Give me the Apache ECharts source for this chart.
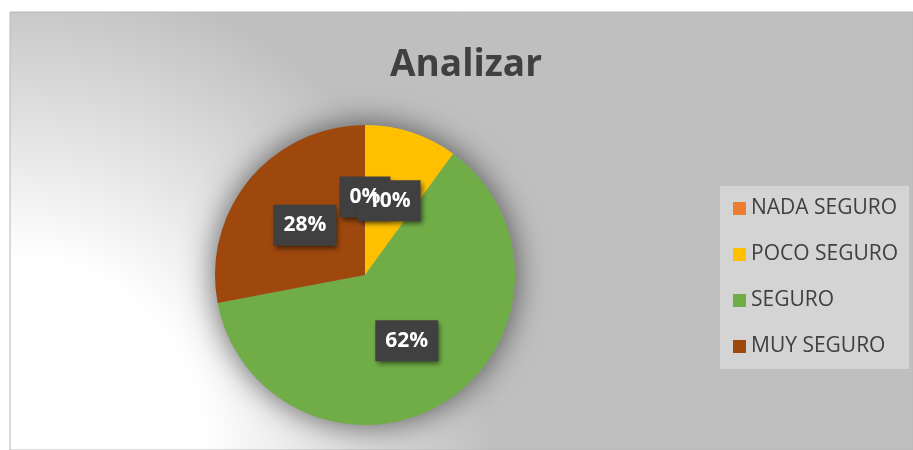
<!DOCTYPE html>
<html>
<head>
<meta charset="utf-8">
<script src="https://cdn.jsdelivr.net/npm/echarts@6/dist/echarts.min.js"></script>
<style>
  html, body { margin: 0; padding: 0; background: #fff; }
  #chart { width: 913px; height: 450px; }
</style>
</head>
<body>
<div id="chart"></div>
<script>
// datos del gráfico
const categories = ['NADA SEGURO', 'POCO SEGURO', 'SEGURO', 'MUY SEGURO']
const values = [0, 10, 62, 28]
const colors = ['#ED7D31', '#FFC000', '#70AD47', '#9E480E']
const titleText = 'Analizar'

const FONT = '"Open Sans", "Noto Sans", sans-serif'
const CENTER = [365, 275]
const RADIUS = 150

const chart = echarts.init(document.getElementById('chart'), null, { renderer: 'canvas' })

const pieData = categories.map((c, i) => ({ name: c, value: values[i] }))

// estilo común de las etiquetas (cajas oscuras con porcentaje)
const labelBase = {
  show: true,
  position: 'inside',
  formatter: '{d}%',
  fontFamily: FONT,
  fontSize: 21,
  fontWeight: 'bold',
  lineHeight: 21,
  padding: [10, 10],
  textBorderWidth: 0
}

const option = {
  animation: false,
  backgroundColor: '#ffffff',
  graphic: [
    {
      type: 'rect',
      z: -10,
      silent: true,
      shape: { x: 10, y: 12, width: 903, height: 438 },
      style: {
        fill: {
          type: 'radial',
          x: 0, y: 1, r: 1.1,
          colorStops: [
            { offset: 0, color: '#ffffff' },
            { offset: 0.4, color: '#ffffff' },
            { offset: 1, color: '#bfbfbf' }
          ]
        },
        stroke: '#b8b8b8',
        lineWidth: 1
      }
    }
  ],
  title: {
    text: titleText,
    left: 466,
    textAlign: 'center',
    top: 43,
    padding: 0,
    textStyle: {
      fontFamily: FONT,
      fontSize: 37,
      fontWeight: 'bold',
      color: '#404040',
      lineHeight: 44
    }
  },
  legend: {
    data: categories,
    orient: 'vertical',
    left: 720,
    top: 186,
    backgroundColor: '#d4d4d4',
    padding: [12, 11, 12, 13],
    itemWidth: 13,
    itemHeight: 13,
    itemGap: 25,
    icon: 'rect',
    textStyle: {
      fontFamily: FONT,
      fontSize: 21,
      color: '#404040',
      lineHeight: 20
    }
  },
  series: [
    {
      // sombra detrás del pastel
      type: 'pie',
      silent: true,
      center: CENTER,
      radius: RADIUS,
      z: 1,
      label: { show: false },
      labelLine: { show: false },
      itemStyle: {
        color: '#9a9a9a',
        shadowBlur: 32,
        shadowColor: 'rgba(0,0,0,0.6)'
      },
      data: [{ value: 1, name: '_shadow' }]
    },
    {
      // sectores + cajas de las etiquetas
      type: 'pie',
      center: CENTER,
      radius: RADIUS,
      startAngle: 90,
      clockwise: true,
      z: 2,
      minShowLabelAngle: -1,
      avoidLabelOverlap: false,
      labelLayout: { hideOverlap: false },
      color: colors,
      itemStyle: { borderWidth: 0 },
      label: Object.assign({}, labelBase, {
        color: 'rgba(0,0,0,0)',
        backgroundColor: '#404040',
        shadowColor: 'rgba(0,0,0,0.55)',
        shadowBlur: 5,
        shadowOffsetX: 2,
        shadowOffsetY: 3
      }),
      emphasis: { disabled: true },
      data: pieData
    },
    {
      // textos encima de todas las cajas
      type: 'pie',
      silent: true,
      center: CENTER,
      radius: RADIUS,
      startAngle: 90,
      clockwise: true,
      z: 3,
      minShowLabelAngle: -1,
      avoidLabelOverlap: false,
      labelLayout: { hideOverlap: false },
      itemStyle: { color: 'rgba(0,0,0,0)', borderWidth: 0 },
      label: Object.assign({}, labelBase, { color: '#ffffff' }),
      emphasis: { disabled: true },
      data: pieData
    }
  ]
}

chart.setOption(option)
</script>
</body>
</html>
